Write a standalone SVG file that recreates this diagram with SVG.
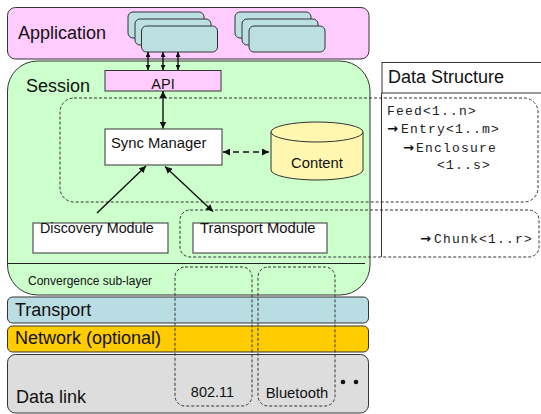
<svg xmlns="http://www.w3.org/2000/svg" width="541" height="414" viewBox="0 0 541 414">
<defs>
<marker id="ah" viewBox="0 0 10 10" refX="10" refY="5" markerWidth="7" markerHeight="7" markerUnits="userSpaceOnUse" orient="auto-start-reverse"><path d="M0,0 L10,5 L0,10 z" fill="#111"/></marker>
<marker id="ahs" viewBox="0 0 10 10" refX="10" refY="5" markerWidth="5" markerHeight="5" markerUnits="userSpaceOnUse" orient="auto-start-reverse"><path d="M0,0 L10,5 L0,10 z" fill="#111"/></marker>
</defs>
<style>
.box{stroke:#333;stroke-width:1}
.sans{font-family:"Liberation Sans",Arial,sans-serif;fill:#111}
.big{font-size:18px}
.mid{font-size:14.8px}
.mono{font-family:"Liberation Mono","Courier New",monospace;font-size:13px;letter-spacing:1.2px;fill:#222}
.arr{font-family:"DejaVu Sans",sans-serif;font-size:13px;letter-spacing:0;font-weight:bold;fill:#111}
.dash{fill:none;stroke:#333;stroke-width:1;stroke-dasharray:3,2}
.con{stroke:#111;stroke-width:1.4;fill:none}
</style>
<g id="application">
<rect class="box" x="7.5" y="7.5" width="361.5" height="51.5" rx="8" fill="#FFCCFF"/>
<text class="sans big" x="18" y="38.5">Application</text>
<rect class="box" x="128" y="12" width="76" height="26" rx="5" fill="#BCDFE2"/>
<rect class="box" x="135" y="19" width="76" height="26" rx="5" fill="#BCDFE2"/>
<rect class="box" x="141.5" y="26" width="76" height="26" rx="5" fill="#BCDFE2"/>
<rect class="box" x="235" y="12" width="76" height="26" rx="5" fill="#BCDFE2"/>
<rect class="box" x="242" y="19" width="76" height="26" rx="5" fill="#BCDFE2"/>
<rect class="box" x="249" y="26" width="76" height="26" rx="5" fill="#BCDFE2"/>
</g>
<g id="session">
<rect class="box" x="7.5" y="61" width="362.5" height="234" rx="30" fill="#CCFFCC"/>
<text class="sans big" x="26" y="91.5">Session</text>
<line x1="8" y1="263.5" x2="365" y2="263.5" stroke="#222" stroke-width="1.2"/>
<text class="sans" font-size="12" x="28" y="285">Convergence sub-layer</text>
</g>
<g id="transport-layer">
<rect class="box" x="7.5" y="297" width="361" height="26" rx="5" fill="#B9DDE3"/>
<text class="sans big" x="15" y="315.5">Transport</text>
</g>
<g id="network-layer">
<rect class="box" x="7.5" y="326" width="361" height="26" rx="5" fill="#FFCC00"/>
<text class="sans big" x="15" y="344">Network (optional)</text>
</g>
<g id="datalink-layer">
<rect class="box" x="7.5" y="354.5" width="361" height="58.5" rx="8" fill="#DDDDDD"/>
<text class="sans big" x="16" y="403">Data link</text>
<circle cx="343" cy="382" r="2.3" fill="#111"/>
<circle cx="356" cy="382" r="2.3" fill="#111"/>
</g>
<g id="data-structure">
<rect class="box" x="382" y="62.5" width="165" height="30.5" fill="#FFFFFF"/>
<text class="sans big" x="388" y="82.5">Data Structure</text>
<line x1="381.5" y1="93" x2="381.5" y2="257" stroke="#333" stroke-width="1"/>
<text class="mono" x="387" y="115">Feed&lt;1..n&gt;</text>
<text class="mono" x="387" y="133"><tspan class="arr">→</tspan><tspan x="401">Entry&lt;1..m&gt;</tspan></text>
<text class="mono" x="403" y="151.5"><tspan class="arr">→</tspan><tspan x="416">Enclosure</tspan></text>
<text class="mono" x="437" y="169">&lt;1..s&gt;</text>
<text class="mono" x="420" y="242.5"><tspan class="arr">→</tspan><tspan x="434">Chunk&lt;1..r&gt;</tspan></text>
</g>
<g id="regions">
<rect class="dash" x="60" y="98" width="478" height="104" rx="14"/>
<rect class="dash" x="180" y="210" width="359" height="47" rx="10"/>
<rect class="dash" x="175" y="267" width="77" height="139" rx="10"/>
<rect class="dash" x="258" y="267" width="77" height="139" rx="10"/>
</g>
<g id="api">
<rect class="box" x="105" y="70.5" width="116" height="20.5" fill="#FFCCFF"/>
<text class="sans" font-size="14.5" x="163" y="88.5" text-anchor="middle">API</text>
</g>
<g id="sync-manager">
<rect class="box" x="105" y="129" width="117" height="36" fill="#FFFFFF"/>
<text class="sans mid" x="111" y="147.5">Sync Manager</text>
</g>
<g id="content">
<path class="box" d="M271,132 L271,170 A46,10 0 0 0 363,170 L363,132" fill="#FFF7B0"/>
<ellipse class="box" cx="317" cy="132" rx="46" ry="10" fill="#FFF7B0"/>
<text class="sans mid" x="317" y="168" text-anchor="middle">Content</text>
</g>
<g id="discovery-module">
<rect class="box" x="33" y="223" width="135" height="30" fill="#FFFFFF"/>
<text class="sans" font-size="14.3" x="40" y="233">Discovery Module</text>
</g>
<g id="transport-module">
<rect class="box" x="193" y="223" width="134" height="30" fill="#FFFFFF"/>
<text class="sans mid" x="200" y="233">Transport Module</text>
</g>
<g id="labels">
<text class="sans" font-size="14.5" x="212.5" y="396.5" text-anchor="middle">802.11</text>
<text class="sans" font-size="14.8" x="297" y="397.5" text-anchor="middle">Bluetooth</text>
</g>
<g id="connectors">
<line class="con" x1="148" y1="52" x2="148" y2="70" stroke-width="1.1" marker-start="url(#ahs)" marker-end="url(#ahs)"/>
<line class="con" x1="163" y1="52" x2="163" y2="70" stroke-width="1.1" marker-start="url(#ahs)" marker-end="url(#ahs)"/>
<line class="con" x1="178" y1="52" x2="178" y2="70" stroke-width="1.1" marker-start="url(#ahs)" marker-end="url(#ahs)"/>
<line class="con" x1="163" y1="91" x2="163" y2="128.5" marker-start="url(#ah)" marker-end="url(#ah)"/>
<line class="con" x1="223" y1="152" x2="269" y2="152" stroke-dasharray="6,4" marker-start="url(#ah)" marker-end="url(#ah)"/>
<line class="con" x1="97" y1="213" x2="146" y2="166" marker-end="url(#ah)"/>
<line class="con" x1="165" y1="166.5" x2="213" y2="211.5" marker-start="url(#ah)" marker-end="url(#ah)"/>
</g>
</svg>
